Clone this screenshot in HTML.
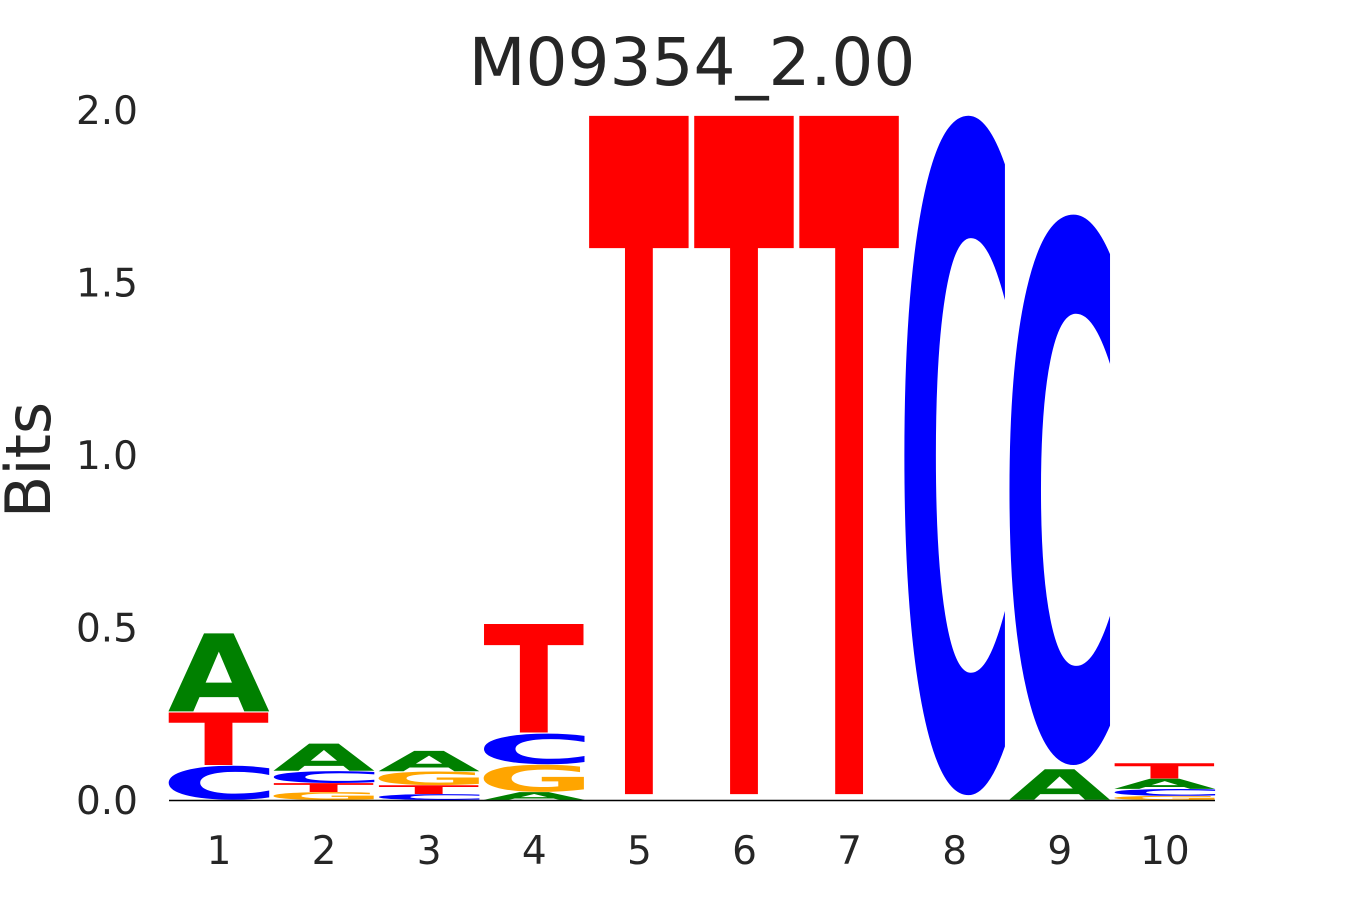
<!DOCTYPE html>
<html><head><meta charset="utf-8"><style>
html,body{margin:0;padding:0;background:#fff;width:1350px;height:900px;overflow:hidden}
text{font-family:"DejaVu Sans","Liberation Sans",sans-serif}
</style></head><body>
<svg id="chart" width="1350" height="900" viewBox="0 0 1350 900" xmlns="http://www.w3.org/2000/svg" style="display:block">
<text x="692" y="85" font-size="66" text-anchor="middle" fill="#262626">M09354_2.00</text>
<text transform="translate(50,460) rotate(-90)" font-size="62" text-anchor="middle" fill="#262626">Bits</text>
<g id="yticks"></g><g id="xticks"></g><g id="letters"></g>
<line x1="169" y1="800.5" x2="1215" y2="800.5" stroke="#000" stroke-width="1.5"/>
</svg>
<script>
const positions = ["1","2","3","4","5","6","7","8","9","10"];
// stacks bottom to top: [letter, bits]
const col1 = [["C",0.10],["T",0.155],["A",0.23]];
const col2 = [["G",0.023],["T",0.026],["C",0.035],["A",0.08]];
const col3 = [["C",0.017],["T",0.026],["G",0.04],["A",0.06]];
const col4 = [["A",0.023],["G",0.08],["C",0.09],["T",0.32]];
const col5 = [["T",2.0]];
const col6 = [["T",2.0]];
const col7 = [["T",2.0]];
const col8 = [["C",2.0]];
const col9 = [["A",0.09],["C",1.62]];
const col10 = [["G",0.012],["C",0.02],["A",0.03],["T",0.045]];
const columns = [col1,col2,col3,col4,col5,col6,col7,col8,col9,col10];
const yTicks = [0,0.5,1.0,1.5,2.0];
const yTickLabels = ["0.0","0.5","1.0","1.5","2.0"];
const colors = {A:"#008000",C:"#0000ff",G:"#ffa500",T:"#ff0000"};
const glyphLen = {A:102,C:119,G:118,T:101};
const glyphDx = {A:-1.2,C:-8.4,G:-7.8,T:-1};
const glyphH = {A:72.9,C:75.5,G:75.5,T:72.9};
const glyphDesc = {A:0,C:1.3,G:1.3,T:0};
const NS="http://www.w3.org/2000/svg";
const y0=800, pxPerBit=345;
function yScale(v){return y0 - v*pxPerBit;}
function xLeft(i){return 169 + i*105.1;}
const colW=100, vpad=0.017;
const yt=document.getElementById('yticks');
yTicks.forEach((v,i)=>{
  const t=document.createElementNS(NS,'text');
  
  
  t.setAttribute('x',138);t.setAttribute('y',yScale(v)+14);
  t.setAttribute('font-size',39);t.setAttribute('text-anchor','end');t.setAttribute('fill','#262626');
  t.textContent=yTickLabels[i];yt.appendChild(t);
});
const xt=document.getElementById('xticks');
positions.forEach((p,i)=>{
  const t=document.createElementNS(NS,'text');
  
  
  t.setAttribute('x',xLeft(i)+colW/2);t.setAttribute('y',864);
  t.setAttribute('font-size',39);t.setAttribute('text-anchor','middle');t.setAttribute('fill','#262626');
  t.textContent=p;xt.appendChild(t);
});
const lg=document.getElementById('letters');
columns.forEach((col,i)=>{
  let base=0;
  col.forEach(([L,h])=>{
    const hp=h*pxPerBit*(1-vpad);
    const sy=hp/glyphH[L];
    const bottom=yScale(base)-h*pxPerBit*vpad/2 - glyphDesc[L]*sy;
    const t=document.createElementNS(NS,'text');
    
    
    t.setAttribute('x',0);t.setAttribute('y',0);
    t.setAttribute('font-size',100);t.setAttribute('font-weight','bold');
    t.setAttribute('textLength',glyphLen[L]);t.setAttribute('lengthAdjust','spacingAndGlyphs');
    t.setAttribute('fill',colors[L]);
    t.setAttribute('transform','translate('+(xLeft(i)+glyphDx[L])+','+bottom+') scale(1,'+sy+')');
    t.textContent=L;lg.appendChild(t);
    base+=h;
  });
});
</script>
</body></html>
